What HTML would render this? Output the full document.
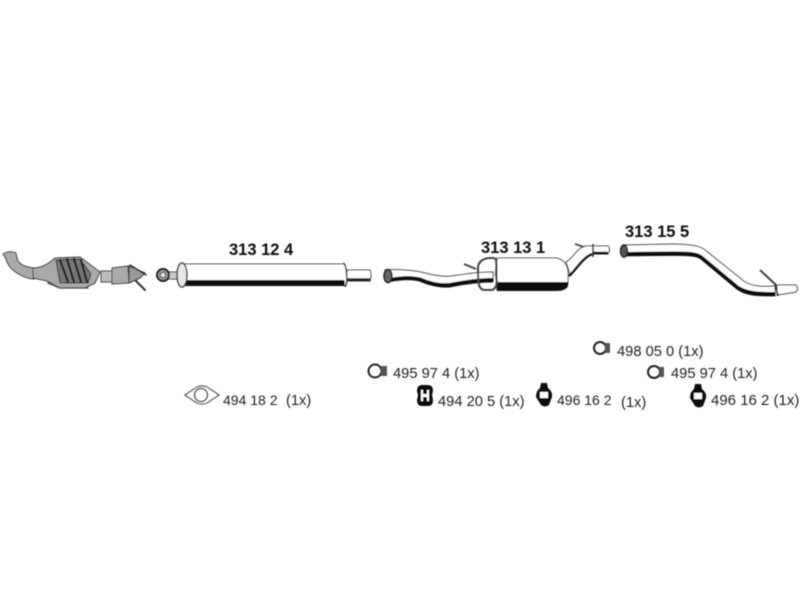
<!DOCTYPE html>
<html><head><meta charset="utf-8"><style>
html,body{margin:0;padding:0;background:#fff}
svg{display:block}
text{font-family:"Liberation Sans",sans-serif;fill:#222}
.p{font-size:14px}
.l{font-size:14.7px}
.b{font-size:16.5px;font-weight:bold;fill:#111}
</style></head><body>
<svg width="800" height="600" viewBox="0 0 800 600" xmlns="http://www.w3.org/2000/svg">
<defs><filter id="s" x="-2%" y="-2%" width="104%" height="104%"><feGaussianBlur stdDeviation="0.4"/></filter></defs>
<rect width="800" height="600" fill="#fff"/>
<g filter="url(#s)">
<!-- catalytic converter -->
<g stroke="#333" stroke-linejoin="round" stroke-linecap="round">
<path d="M3 254 Q9 250 16 253 L17 258 C18 264 24 267 34 268 L34 279 C20 278 8 268 6 259Z" fill="#aaa" stroke-width="1"/>
<path d="M33 268 C40 268 46 266 55 258 L80 257 L100 272 L95 283 L85 288 L60 288 L47 281 L33 278Z" fill="#aaa" stroke-width="1"/>
<path d="M56 260 L80 259 L91 274 L88 283 L60 283Z" fill="#777" stroke-width="1"/>
<path d="M60 260 L68 282 M67 259 L74 282 M74 259 L81 282 M81 260 L87 282" stroke="#222" stroke-width="2.200" fill="none"/>
<path d="M48 283 L60 288 L88 288" stroke="#555" stroke-width="1.500" fill="none"/>
<rect x="101" y="271" width="12" height="11" fill="#bbb" stroke-width="1"/>
<path d="M112 268 L128 266 L129 283 L112 284Z" fill="#aaa" stroke-width="1"/>
<path d="M129 266 L145 273 L140 278 L129 283Z" fill="#999" stroke-width="1"/>
<path d="M136 281 L145 290" stroke="#333" stroke-width="2" fill="none"/>
<path d="M130 265 L146 275" stroke="#333" stroke-width="1.500" fill="none"/>
</g>
<!-- flange cone -->
<path d="M168 272 H180 V279 H168Z" fill="#ccc" stroke="#333"/>
<circle cx="163" cy="275" r="6" fill="#999" stroke="#222" stroke-width="2"/>
<circle cx="163" cy="275" r="2.500" fill="#eee" stroke="#333"/>
<!-- 313 12 4 -->
<path d="M180 264 H345 V285 H180Z" fill="#fff" stroke="#333" stroke-width="1"/>
<rect x="184" y="280" width="162" height="6" fill="#111"/>
<ellipse cx="182" cy="275" rx="5" ry="12" fill="#e8e8e8" stroke="#444" stroke-width="1.500"/>
<path d="M343 263 C347 265 348 283 345 287" fill="#fff" stroke="#444" stroke-width="1.500"/>
<path d="M347 270 H370 Q372 275 370 281 H347Z" fill="#fff" stroke="#333" stroke-width="1"/>
<path d="M347 279.500 H370" stroke="#222" stroke-width="2.500"/>
<!-- 313 13 1 -->
<path d="M385 270 C400 269 412 270 425 273 C436 276 444 277 452 276 C465 274 478 272 493 272 L493 282 C478 282 465 284 450 287 C440 288 430 285 420 281 C410 278 400 279 385 281Z" fill="#fff" stroke="#333" stroke-width="1"/>
<path d="M390 280 C400 278 410 277 420 279.500 C430 284 440 286 450 285 C465 282 478 280 493 280" fill="none" stroke="#111" stroke-width="4"/>
<ellipse cx="388" cy="276" rx="4" ry="6.500" fill="#666" stroke="#222" stroke-width="1.500"/>
<path d="M497 258 H556 Q567 260 568 272 V283 Q567 290 556 290 H497Z" fill="#fff" stroke="#333" stroke-width="1"/>
<path d="M497 282 H568 V286 Q566 291 556 291 H497Z" fill="#111"/>
<path d="M566 262 C574 258 576 248 586 246 H608 Q611 250 608 254 H592 C584 256 578 268 570 274Z" fill="#fff" stroke="#333" stroke-width="1"/>
<path d="M592 253 H608 M569 276 C576 270 582 258 592 254" stroke="#111" stroke-width="2.500" fill="none"/>
<path d="M575 244 L584 247 M593 244 V257" stroke="#333" stroke-width="1.500"/>
<path d="M478 268 C478 260 486 258 490 258 H494 C498 259 496 270 496 274 C497 280 498 288 492 290 H484 C478 289 478 282 478 268Z" fill="none" stroke="#444" stroke-width="2"/>
<path d="M464 264 L476 269" stroke="#444" stroke-width="2"/>
<!-- 313 15 5 -->
<path d="M624 245 L675 244 C695 245 700 246 705 250 L745 282 C752 286 760 287 775 286 L775 296 C760 296 748 296 740 291 L700 258 C695 255 680 255 624 256Z" fill="#fff" stroke="#333" stroke-width="1"/>
<path d="M626 254 L675 253.500 C690 253.500 697 254 702 258 L738 288 C748 294 760 294 775 294" fill="none" stroke="#111" stroke-width="4"/>
<ellipse cx="624" cy="251" rx="3.500" ry="6" fill="#555" stroke="#222" stroke-width="1.500"/>
<path d="M777 285 L796 285 Q799 289 796 292 L777 295Z" fill="#fff" stroke="#333"/>
<path d="M775 283 L778 296" stroke="#222" stroke-width="1.500"/>
<path d="M760 270 L775 284" stroke="#444" stroke-width="2"/>
<!-- gasket -->
<path d="M185 395 L197 387 Q202 385 207 387 L219 395 L207 403 Q202 405 197 403Z" fill="#fff" stroke="#444" stroke-width="1.200"/>
<circle cx="201" cy="395" r="6.500" fill="#fff" stroke="#444" stroke-width="1.500"/>
<!-- clamps -->
<g fill="none" stroke="#222" stroke-width="2">
<circle cx="375" cy="371" r="6.500"/>
<circle cx="600" cy="348" r="6"/>
<circle cx="654" cy="372" r="6"/>
</g>
<rect x="381" y="366" width="6" height="10" fill="#555"/>
<rect x="605" y="343" width="5" height="10" fill="#555"/>
<rect x="659" y="367" width="5" height="10" fill="#555"/>
<!-- hangers -->
<path d="M417 391 Q417 385 422 385 H428 Q433 385 433 391 L432 395 L433 400 Q433 406 428 406 H422 Q417 406 417 400 L418 395Z" fill="#111"/>
<path d="M421 390 H423 V394 H427 V390 H429 V401 H427 V397 H423 V401 H421Z" fill="#fff"/>
<path d="M541 383 H547 L548 388 Q553 392 552 397 L549 405 Q545 408 541 405 L536 397 Q536 391 540 388Z" fill="#111"/>
<rect x="540" y="392" width="8" height="6" fill="#fff"/>
<path d="M695 384 H701 L702 389 Q707 393 706 398 L703 406 Q699 409 695 406 L690 398 Q690 392 694 389Z" fill="#111"/>
<rect x="694" y="393" width="8" height="6" fill="#fff"/>
<!-- labels -->
<text class="b" x="229" y="255">313 12 4</text>
<text class="b" x="481" y="253">313 13 1</text>
<text class="b" x="625" y="237">313 15 5</text>
<text class="l" x="393" y="378">495 97 4 (1x)</text>
<text class="l" x="438" y="406">494 20 5 (1x)</text>
<text class="p" x="557" y="405">496 16 2</text>
<text class="l" x="621" y="407">(1x)</text>
<text class="l" x="617" y="356">498 05 0 (1x)</text>
<text class="l" x="671" y="378">495 97 4 (1x)</text>
<text class="l" x="711" y="405" style="font-size:15px">496 16 2 (1x)</text>
<text class="p" x="223" y="405">494 18 2</text>
<text class="l" x="286" y="405">(1x)</text>
</g>
</svg>
</body></html>
